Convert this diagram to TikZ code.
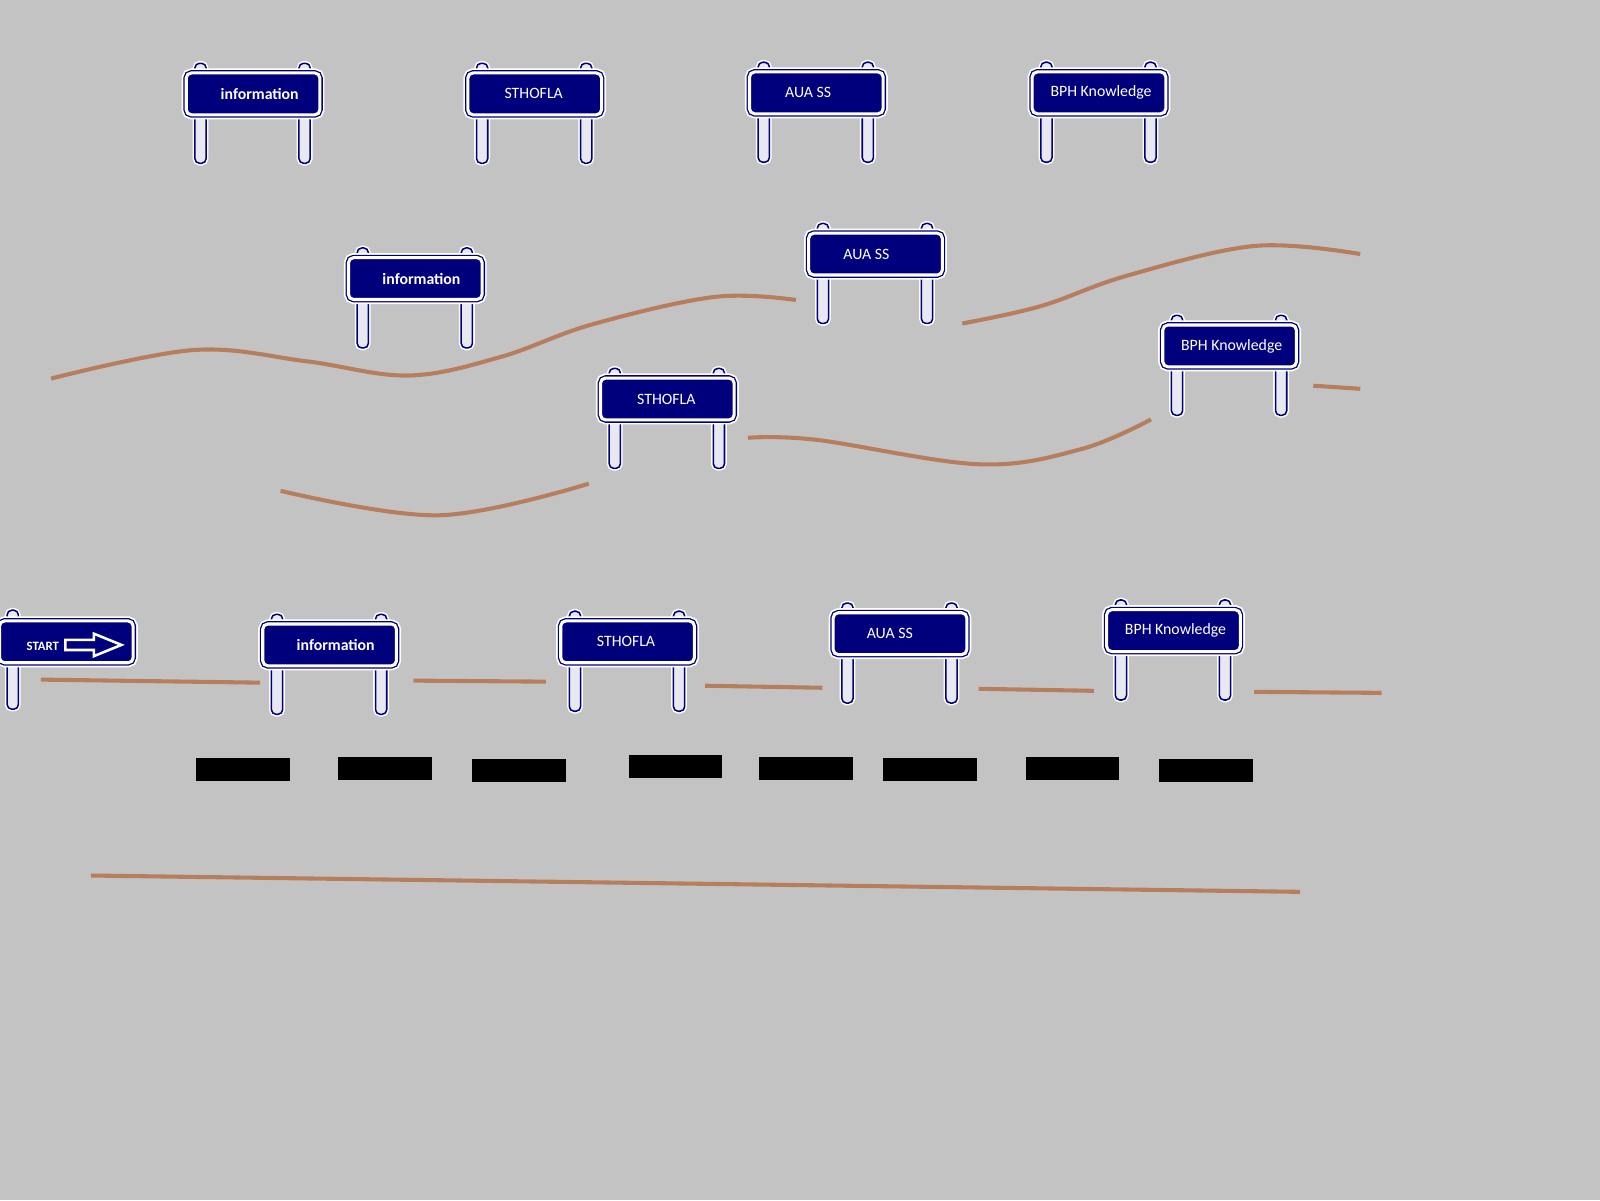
\documentclass[tikz,border=0pt]{standalone}
\usepackage{fontspec}
\setmainfont{Carlito}

\definecolor{signblue}{RGB}{0,0,125}
\definecolor{roadbrown}{RGB}{183,126,93}
\definecolor{ground}{RGB}{195,195,195}
\definecolor{postfill}{RGB}{232,232,240}

\tikzset{
  board/.style={rectangle, rounded corners=5pt, minimum width=131pt, minimum height=41pt,
    inner sep=0pt, fill=signblue, draw=signblue, double=white, double distance=3pt,
    line width=1.3pt, text=white, font=\fontsize{15.5}{18}\selectfont,
    preaction={draw=white, line width=9pt}},
  post/.style={draw=signblue, fill=postfill, line width=1.5pt, rounded corners=4.5pt,
    preaction={draw=white, line width=4.5pt}},
  road/.style={draw=roadbrown, line width=4pt},
}

% name, x, y, text shift, text
\newcommand{\roadsign}[5]{%
  \draw[post] (#2-57,#3-30) rectangle (#2-46,#3+68);
  \draw[post] (#2+45,#3-30) rectangle (#2+56,#3+68);
  \node[board] (#1) at (#2,#3) {\hspace*{#4pt}\raisebox{-2pt}{#5}};
}

\begin{document}
\begin{tikzpicture}[x=1pt, y=-1pt]
  \fill[ground] (0,0) rectangle (1568,1176);
  \useasboundingbox (0,0) rectangle (1568,1176);

  % top row
  \roadsign{info1}{248}{92}{13}{\textbf{information}}
  \roadsign{sthofla1}{524}{92}{-2}{STHOFLA}
  \roadsign{auass1}{800}{91}{-16}{AUA SS}
  \roadsign{bph1}{1077}{91}{4}{BPH Knowledge}

  % winding roads
  \draw[road] plot[smooth, tension=0.6] coordinates {(50,371) (190,343) (300,354) (400,368) (490,350) (580,318) (700,291) (780,294)};
  \draw[road] plot[smooth, tension=0.6] coordinates {(943,317) (1020,300) (1105,270) (1230,241) (1333,249)};
  \draw[road] plot[smooth, tension=0.6] coordinates {(275,481) (430,505) (577,474)};
  \draw[road] plot[smooth, tension=0.6] coordinates {(733,429) (800,431) (960,455) (1060,440) (1128,411)};
  \draw[road] (1287,378) -- (1333,381);

  \roadsign{info2}{407}{273}{12}{\textbf{information}}
  \roadsign{auass2}{858}{249}{-18}{AUA SS}
  \roadsign{sthofla2}{654}{391}{-2}{STHOFLA}
  \roadsign{bph2}{1205}{339}{4}{BPH Knowledge}

  % start sign
  \draw[post] (7,598) rectangle (18,695);
  \node[board] (start) at (65,629) {};
  \node[text=white, font=\fontsize{12.5}{15}\selectfont\bfseries] (starttext) at (42,633) {START};
  \draw[white, line width=2.5pt, fill=signblue] (64,627) -- (92,627) -- (92,621) -- (119,632)
    -- (92,643) -- (92,637) -- (64,637) -- cycle;

  % bottom row
  \roadsign{info3}{323}{632}{12}{\textbf{information}}
  \roadsign{sthofla3}{615}{629}{-3}{STHOFLA}
  \roadsign{auass3}{882}{621}{-20}{AUA SS}
  \roadsign{bph3}{1150}{618}{4}{BPH Knowledge}

  \draw[road] (40,666) -- (255,669);
  \draw[road] (405,667) -- (535,668);
  \draw[road] (691,672) -- (806,674);
  \draw[road] (959,675) -- (1072,677);
  \draw[road] (1229,678) -- (1354,679);

  \foreach \bx/\by in {192/743, 331/742, 463/744, 616/740, 744/742, 865/743, 1005/742, 1136/744}
    \fill (\bx,\by) rectangle ++(92,22);

  \draw[road] (89,858) -- (1274,874);
\end{tikzpicture}
\end{document}
